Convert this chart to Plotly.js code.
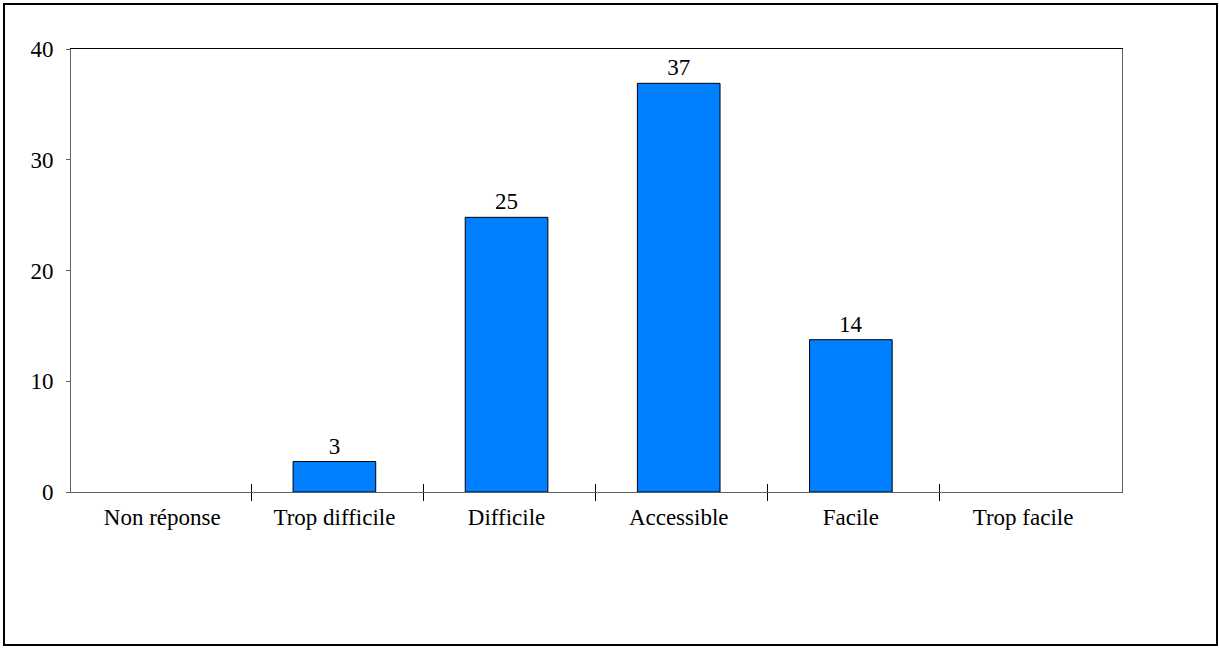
<!DOCTYPE html>
<html>
<head>
<meta charset="utf-8">
<script src="https://cdn.plot.ly/plotly-3.0.1.min.js"></script>
<style>
  html, body { margin: 0; padding: 0; background: #fff; }
  #wrap { position: relative; width: 1219px; height: 649px; }
  #chart { position: absolute; left: 0; top: 0; width: 1219px; height: 649px; }
  #frame { position: absolute; left: 3px; top: 3px; width: 1215px; height: 643px;
           box-sizing: border-box; border: 2px solid #000; pointer-events: none; }
</style>
</head>
<body>
<div id="wrap"><div id="chart"></div><div id="frame"></div></div>
<script>
const categories = ["Non réponse", "Trop difficile", "Difficile", "Accessible", "Facile", "Trop facile"];
const values = [0, 2.75, 24.8, 36.9, 13.75, 0];
const labels = ["", "3", "25", "37", "14", ""];
const yTicks = [0, 10, 20, 30, 40];
const boundaries = [0.5, 1.5, 2.5, 3.5, 4.5];

const FONT = '"Liberation Serif", "Times New Roman", Times, serif';
const FS = 23;
const xRange = [-0.53, 5.575];
const tickRange = [-0.547, 5.558];

const bar = {
  type: "bar",
  x: categories,
  y: values,
  text: labels,
  textposition: "outside",
  cliponaxis: false,
  textfont: { family: FONT, size: FS, color: "#000" },
  width: 0.48,
  marker: { color: "#0080FF", line: { color: "#000", width: values.map(v => v > 0 ? 1 : 0) } },
  hoverinfo: "skip"
};

const tickOut = { type: "scatter", x: [], y: [], xaxis: "x2", yaxis: "y", hoverinfo: "skip", showlegend: false };
const tickIn  = { type: "scatter", x: [], y: [], xaxis: "x3", yaxis: "y", hoverinfo: "skip", showlegend: false };
const topLine = { type: "scatter", x: [], y: [], xaxis: "x4", yaxis: "y", hoverinfo: "skip", showlegend: false };

const layout = {
  width: 1219, height: 649,
  margin: { l: 71, r: 97, t: 49, b: 157, pad: 0 },
  paper_bgcolor: "#fff", plot_bgcolor: "#fff",
  showlegend: false,
  font: { family: FONT, size: FS, color: "#000" },
  xaxis: {
    type: "category",
    range: xRange,
    showgrid: false, zeroline: false,
    showline: true, linecolor: "#606060", linewidth: 1, mirror: false,
    ticks: "", ticklabelstandoff: 4,
    tickfont: { family: FONT, size: FS, color: "#000" },
    fixedrange: true
  },
  xaxis2: {
    overlaying: "x", type: "linear", range: tickRange,
    tickmode: "array", tickvals: boundaries,
    ticks: "outside", ticklen: 8, tickwidth: 1, tickcolor: "#000",
    showticklabels: false, showgrid: false, zeroline: false, showline: false,
    anchor: "y", side: "bottom"
  },
  xaxis3: {
    overlaying: "x", type: "linear", range: tickRange,
    tickmode: "array", tickvals: boundaries,
    ticks: "inside", ticklen: 8, tickwidth: 1, tickcolor: "#000",
    showticklabels: false, showgrid: false, zeroline: false, showline: false,
    anchor: "y", side: "bottom"
  },
  xaxis4: {
    overlaying: "x", type: "linear", range: xRange,
    ticks: "", showticklabels: false, showgrid: false, zeroline: false,
    showline: true, linecolor: "#000", linewidth: 1,
    anchor: "y", side: "top"
  },
  yaxis: {
    range: [0, 40],
    tickmode: "array", tickvals: yTicks,
    showgrid: false, zeroline: false,
    showline: true, linecolor: "#606060", linewidth: 1, mirror: true,
    ticks: "outside", ticklen: 4, tickwidth: 1, tickcolor: "#606060",
    ticklabelstandoff: 8,
    tickfont: { family: FONT, size: FS, color: "#000" },
    fixedrange: true
  }
};

Plotly.newPlot("chart", [bar, tickOut, tickIn, topLine], layout, { staticPlot: true, displayModeBar: false });
</script>
</body>
</html>
